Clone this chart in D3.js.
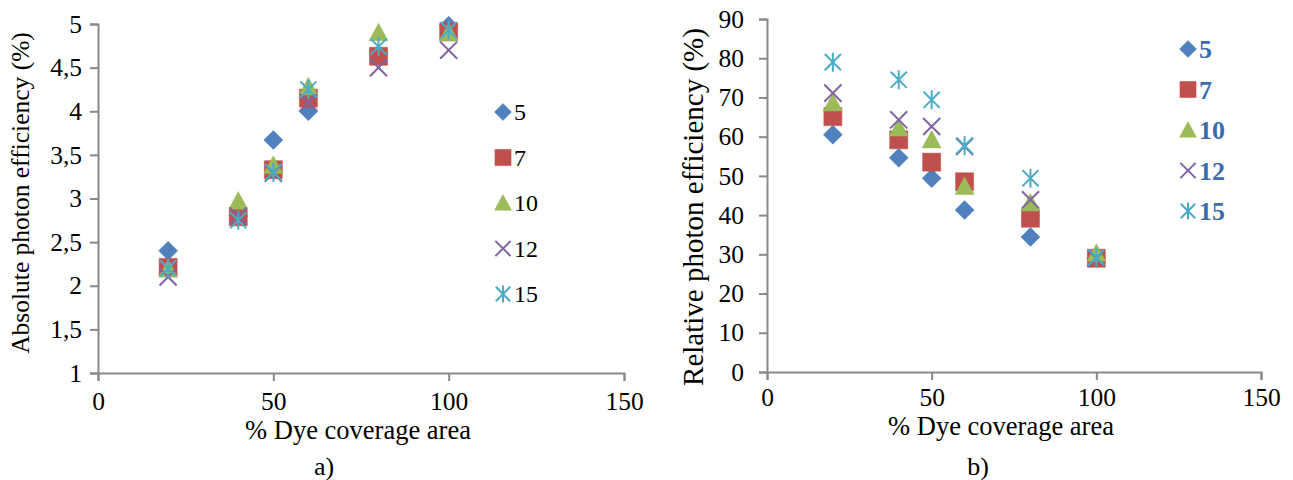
<!DOCTYPE html>
<html>
<head>
<meta charset="utf-8">
<script src="https://cdn.jsdelivr.net/npm/d3@7"></script>
<style>
  html, body { margin: 0; padding: 0; background: #fff; }
  svg { display: block; }
  svg text { font-family: "Liberation Serif", "Times New Roman", Times, serif; }
</style>
</head>
<body>
<svg id="chart" width="1293" height="480"></svg>
<script>
// Dye coverage area (%) at which each sample was measured
const coverage = [20, 40, 50, 60, 80, 100];

// Series names (legend labels)
const seriesNames = ["5", "7", "10", "12", "15"];

// Absolute photon efficiency (%) per series
const absolute5  = [2.40, 2.80, 3.67, 4.00, 4.65, 4.98];
const absolute7  = [2.21, 2.79, 3.33, 4.15, 4.63, 4.91];
const absolute10 = [2.19, 2.97, 3.38, 4.28, 4.90, 4.90];
const absolute12 = [2.10, 2.80, 3.29, 4.10, 4.50, 4.70];
const absolute15 = [2.20, 2.75, 3.30, 4.25, 4.74, 4.93];

// Relative photon efficiency (%) per series
const relative5  = [60.5, 54.6, 49.4, 41.3, 34.4, 29.0];
const relative7  = [65.1, 59.2, 53.5, 48.5, 39.2, 29.0];
const relative10 = [68.6, 62.2, 59.2, 47.3, 43.1, 30.3];
const relative12 = [71.1, 64.3, 62.6, 57.5, 43.9, 29.0];
const relative15 = [79.0, 74.5, 69.4, 57.7, 49.4, 29.2];

// Axis ticks
const xTicks = [0, 50, 100, 150];
const absTicks = [1, 1.5, 2, 2.5, 3, 3.5, 4, 4.5, 5];
const relTicks = [0, 10, 20, 30, 40, 50, 60, 70, 80, 90];

const colors = ["#4f81bd", "#c0504d", "#9bbb59", "#8064a2", "#4bacc6"];
const shapes = ["diamond", "square", "triangle", "cross", "star"];

const absSeries = [absolute5, absolute7, absolute10, absolute12, absolute15];
const relSeries = [relative5, relative7, relative10, relative12, relative15];

const svg = d3.select("#chart");
const axisColor = "#898989";
const serif = "'Liberation Serif', 'Times New Roman', Times, serif";

// Marker path centred on the origin
function markerPath(shape, s) {
  const h = s / 2;
  switch (shape) {
    case "diamond": return `M0,${-h}L${h},0L0,${h}L${-h},0Z`;
    case "square": { const q = h * 0.95; return `M${-q},${-q}H${q}V${q}H${-q}Z`; }
    case "triangle": return `M0,${-h}L${h},${h * 0.85}L${-h},${h * 0.85}Z`;
    case "cross": { const q = h * 0.9; return `M${-q},${-q}L${q},${q}M${q},${-q}L${-q},${q}`; }
    case "star": { const q = h * 0.85; return `M${-q},${-q}L${q},${q}M${q},${-q}L${-q},${q}M0,${-h}V${h}`; }
  }
}
function drawMarker(g, shape, color, x, y, s) {
  const filled = shape === "diamond" || shape === "square" || shape === "triangle";
  g.append("path")
    .attr("transform", `translate(${x},${y})`)
    .attr("d", markerPath(shape, s))
    .attr("fill", filled ? color : "none")
    .attr("stroke", color)
    .attr("stroke-width", filled ? 0.5 : 2)
    .attr("stroke-linejoin", "miter");
}

function panel(o) {
  const x = d3.scaleLinear().domain([0, 150]).range(o.xRange);
  const y = d3.scaleLinear().domain(o.yDomain).range(o.yRange);
  const g = svg.append("g");

  // y axis
  const yAxis = g.append("g")
    .attr("transform", `translate(${o.xRange[0]},0)`)
    .call(d3.axisLeft(y).tickValues(o.yTicks).tickSize(8).tickPadding(o.yPad)
      .tickFormat(o.yFormat));
  // x axis
  const xAxis = g.append("g")
    .attr("transform", `translate(0,${o.yRange[0]})`)
    .call(d3.axisBottom(x).tickValues(xTicks).tickSize(8)
      .tickFormat(d3.format("d")));
  [yAxis, xAxis].forEach(a => {
    a.attr("font-family", null).attr("font-size", null);
    a.select(".domain").attr("stroke", axisColor).attr("stroke-width", 2);
    a.selectAll(".tick line").attr("stroke", axisColor).attr("stroke-width", 2);
    a.selectAll(".tick text").attr("fill", "#000")
      .style("font-family", serif).style("font-size", "25.5px");
  });
  xAxis.selectAll(".tick text").attr("y", o.xTickBase - o.yRange[0]).attr("dy", null);

  // axis titles
  g.append("text")
    .attr("transform", `translate(${o.yTitleX},${o.yTitleY}) rotate(-90)`)
    .attr("text-anchor", "middle")
    .style("font-family", serif).style("font-size", o.yTitleSize + "px")
    .text(o.yTitle);
  g.append("text")
    .attr("x", o.xTitleX).attr("y", o.xTitleY)
    .attr("text-anchor", "middle")
    .style("font-family", serif).style("font-size", "26.5px")
    .text("% Dye coverage area");
  g.append("text")
    .attr("x", o.capX).attr("y", 475)
    .attr("text-anchor", "middle")
    .style("font-family", serif).style("font-size", "26px")
    .text(o.caption);

  // points
  o.series.forEach((vals, i) => {
    const sg = g.append("g");
    vals.forEach((v, j) => drawMarker(sg, shapes[i], colors[i], x(coverage[j]), y(v), 19));
  });

  // legend
  seriesNames.forEach((name, i) => {
    const ly = o.legY + i * o.legStep;
    drawMarker(g, shapes[i], colors[i], o.legX, ly, 17);
    g.append("text")
      .attr("x", o.legX + 11).attr("y", ly)
      .attr("dy", "0.35em")
      .style("font-family", serif)
      .style("font-size", o.legSize + "px")
      .style("font-weight", o.legBold ? "bold" : "normal")
      .attr("fill", o.legColor)
      .text(name);
  });
}

panel({
  xRange: [98, 624], yDomain: [1, 5], yRange: [373, 24], yTicks: absTicks,
  yFormat: d => String(d).replace(".", ","), yPad: 8, xTickBase: 410,
  yTitle: "Absolute photon efficiency (%)", yTitleX: 29, yTitleY: 193, yTitleSize: 25.5,
  xTitleX: 358, xTitleY: 439, capX: 324, caption: "a)",
  series: absSeries,
  legX: 503, legY: 112, legStep: 45.5, legSize: 24, legBold: false, legColor: "#000"
});

panel({
  xRange: [767, 1261], yDomain: [0, 90], yRange: [372, 19], yTicks: relTicks,
  yFormat: d3.format("d"), yPad: 15, xTickBase: 406,
  yTitle: "Relative photon efficiency (%)", yTitleX: 703, yTitleY: 207, yTitleSize: 29,
  xTitleX: 1001, xTitleY: 435, capX: 978, caption: "b)",
  series: relSeries,
  legX: 1188, legY: 49, legStep: 40.5, legSize: 26, legBold: true, legColor: "#3a6cae"
});
</script>
</body>
</html>
